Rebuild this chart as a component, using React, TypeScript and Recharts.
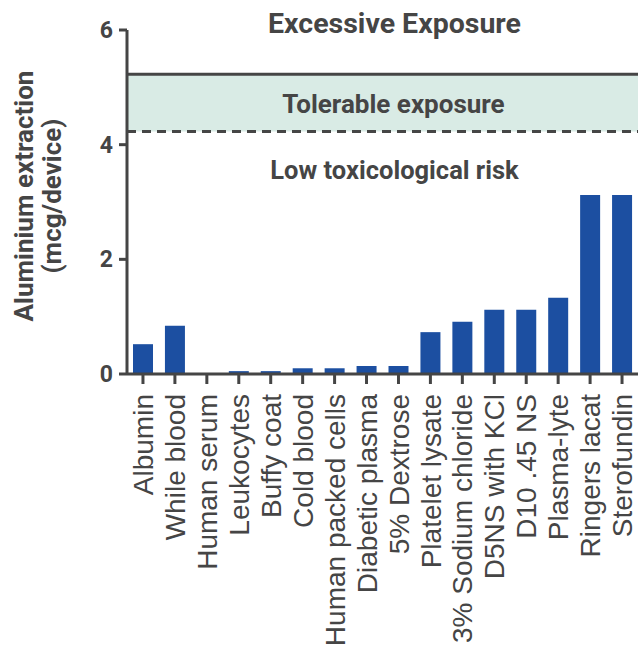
import React from "react";
import {
  Bar,
  BarChart,
  Label,
  ReferenceArea,
  ReferenceLine,
  XAxis,
  YAxis,
} from "recharts";

const categories = [
  "Albumin",
  "While blood",
  "Human serum",
  "Leukocytes",
  "Buffy coat",
  "Cold blood",
  "Human packed cells",
  "Diabetic plasma",
  "5% Dextrose",
  "Platelet lysate",
  "3% Sodium chloride",
  "D5NS with KCl",
  "D10 .45 NS",
  "Plasma-lyte",
  "Ringers lacat",
  "Sterofundin",
];

const extraction = [
  0.52, 0.84, 0, 0.05, 0.05, 0.1, 0.1, 0.14, 0.14, 0.73, 0.91, 1.12, 1.12, 1.33,
  3.12, 3.12,
];

const yTicks = [0, 2, 4, 6];
const excessiveLimit = 5.23;
const tolerableLimit = 4.23;

const data = categories.map((name, i) => ({ name, value: extraction[i] }));

const INK = "#454545";
const BOLD_FONT = "Roboto, 'Liberation Sans', sans-serif";

function CategoryTick(props: any) {
  const { x, y, payload } = props;
  return (
    <g transform={`translate(${x},${y})`}>
      <text
        transform="rotate(-90)"
        textAnchor="end"
        dy="0.36em"
        fill={INK}
        fontSize={28}
        fontFamily="'Liberation Sans', Arial, sans-serif"
      >
        {payload.value}
      </text>
    </g>
  );
}

// text centred over the plot, dy measured from the top of the mark's box
function annotation(text: string, dx: number, dy: number, size: number, mid = false) {
  return (props: any) => {
    const vb = props.viewBox;
    return (
      <text
        x={vb.x + vb.width / 2 + dx}
        y={vb.y + (mid ? vb.height / 2 : 0) + dy}
        textAnchor="middle"
        fill={INK}
        fontSize={size}
        fontWeight={700}
        fontFamily={BOLD_FONT}
      >
        {text}
      </text>
    );
  };
}

function YTitle(props: any) {
  const vb = props.viewBox;
  const cx = vb.x + 33;
  const cy = vb.y + 166;
  return (
    <text
      transform={`rotate(-90, ${cx}, ${cy})`}
      x={cx}
      y={cy}
      textAnchor="middle"
      fill={INK}
      fontSize={26}
      fontWeight={700}
      fontFamily={BOLD_FONT}
    >
      <tspan x={cx} dy={0}>
        Aluminium extraction
      </tspan>
      <tspan x={cx} dy={28}>
        (mcg/device)
      </tspan>
    </text>
  );
}

export default function App() {
  return (
    <div style={{ position: "absolute", left: 0, top: 0 }}>
      <BarChart
        width={639}
        height={647}
        data={data}
        margin={{ top: 30, right: 1, bottom: 0, left: 0 }}
      >
        <ReferenceArea
          y1={tolerableLimit}
          y2={excessiveLimit}
          fill="#d9ebe5"
          fillOpacity={1}
          stroke="none"
        >
          <Label content={annotation("Tolerable exposure", 11, 10, 26, true) as any} />
        </ReferenceArea>
        <ReferenceLine y={excessiveLimit} stroke={INK} strokeWidth={3}>
          <Label content={annotation("Excessive Exposure", 12, -41, 28.5) as any} />
        </ReferenceLine>
        <ReferenceLine
          y={tolerableLimit}
          stroke={INK}
          strokeWidth={3}
          strokeDasharray="9 6"
        >
          <Label content={annotation("Low toxicological risk", 12, 48, 25.5) as any} />
        </ReferenceLine>
        <XAxis
          dataKey="name"
          interval={0}
          height={273}
          tick={<CategoryTick />}
          tickSize={10}
          tickMargin={10}
          axisLine={{ stroke: INK, strokeWidth: 3 }}
          tickLine={{ stroke: INK, strokeWidth: 3 }}
        />
        <YAxis
          width={127}
          domain={[0, 6]}
          ticks={yTicks}
          tickSize={8}
          tickMargin={6}
          axisLine={{ stroke: INK, strokeWidth: 3 }}
          tickLine={{ stroke: INK, strokeWidth: 3 }}
          tick={{
            fill: INK,
            fontSize: 23,
            fontWeight: 700,
            fontFamily: BOLD_FONT,
          }}
        >
          <Label content={<YTitle />} />
        </YAxis>
        <Bar
          dataKey="value"
          fill="#1c4fa1"
          barSize={20}
          isAnimationActive={false}
        />
      </BarChart>
    </div>
  );
}
